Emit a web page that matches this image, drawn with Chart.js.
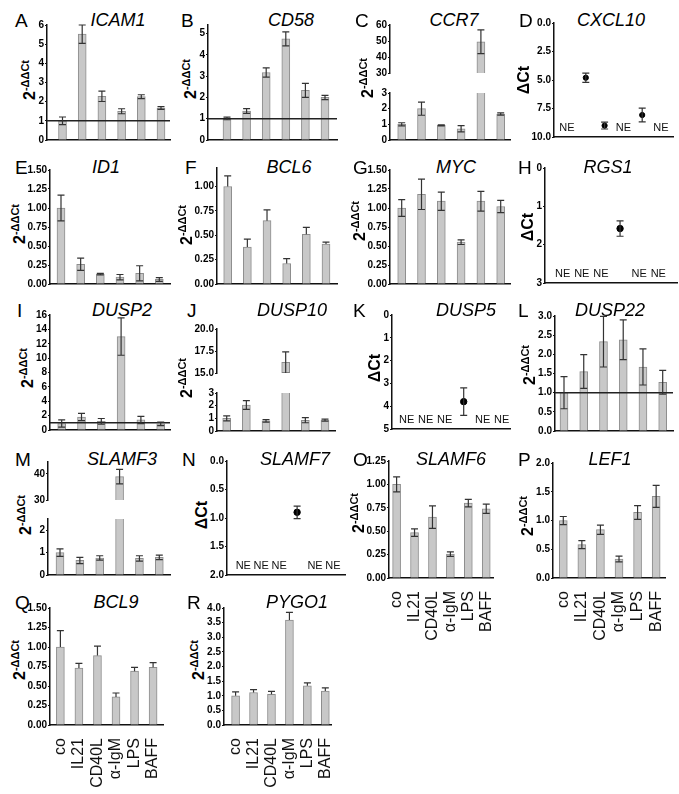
<!DOCTYPE html>
<html>
<head>
<meta charset="utf-8">
<script src="https://cdn.jsdelivr.net/npm/chart.js@4/dist/chart.umd.min.js"></script>
<style>
  html, body { margin: 0; padding: 0; background: #fff; }
  #fig { position: relative; width: 679px; height: 794px; overflow: hidden; background: #fff;
         font-family: "Liberation Sans", Arial, sans-serif; color: #000; }
  #fig canvas { position: absolute; }
  .txt { position: absolute; white-space: nowrap; }
</style>
</head>
<body>
<div id="fig"></div>
<script>
// treatment groups (x categories)
const GROUPS = ['co', 'IL21', 'CD40L', 'α-IgM', 'LPS', 'BAFF'];

// 2^-ΔΔCt bar data (mean, error)
const icam1 = [1.0, 5.52, 2.28, 1.5, 2.26, 1.67];
const icam1Err = [0.2, 0.48, 0.27, 0.13, 0.1, 0.07];
const cd58 = [1.01, 1.36, 3.17, 4.75, 2.33, 2.0];
const cd58Err = [0.06, 0.11, 0.22, 0.33, 0.33, 0.1];
const ccr7 = [1.0, 2.0, 0.93, 0.72, 49.5, 1.66];
const ccr7Err = [0.1, 0.42, 0.03, 0.2, 7.4, 0.07];
const id1 = [1.0, 0.26, 0.13, 0.09, 0.14, 0.06];
const id1Err = [0.17, 0.08, 0.01, 0.035, 0.1, 0.025];
const bcl6 = [1.0, 0.38, 0.65, 0.21, 0.51, 0.41];
const bcl6Err = [0.11, 0.08, 0.11, 0.05, 0.07, 0.02];
const myc = [1.0, 1.18, 1.09, 0.55, 1.09, 1.02];
const mycErr = [0.11, 0.2, 0.12, 0.03, 0.13, 0.08];
const dusp2 = [0.9, 1.8, 1.2, 13.0, 1.4, 0.85];
const dusp2Err = [0.5, 0.5, 0.4, 2.6, 0.5, 0.25];
const dusp10 = [1.0, 2.05, 0.8, 16.2, 0.85, 0.85];
const dusp10Err = [0.2, 0.35, 0.1, 1.2, 0.2, 0.08];
const dusp22 = [1.0, 1.55, 2.33, 2.38, 1.67, 1.27];
const dusp22Err = [0.42, 0.44, 0.66, 0.52, 0.47, 0.31];
const slamf3 = [1.0, 0.65, 0.76, 39.0, 0.74, 0.79];
const slamf3Err = [0.17, 0.14, 0.1, 2.8, 0.12, 0.1];
const slamf6 = [1.0, 0.485, 0.65, 0.255, 0.8, 0.74];
const slamf6Err = [0.08, 0.04, 0.12, 0.025, 0.04, 0.05];
const lef1 = [1.0, 0.58, 0.84, 0.33, 1.14, 1.42];
const lef1Err = [0.07, 0.07, 0.08, 0.05, 0.12, 0.19];
const bcl9 = [1.0, 0.73, 0.89, 0.36, 0.69, 0.74];
const bcl9Err = [0.21, 0.06, 0.12, 0.05, 0.05, 0.06];
const pygo1 = [1.0, 1.11, 1.05, 3.59, 1.34, 1.16];
const pygo1Err = [0.13, 0.1, 0.1, 0.26, 0.1, 0.11];

// ΔCt dot data; null = not expressed (NE)
const cxcl10 = [null, 4.8, 9.0, null, 8.07, null];
const cxcl10Err = [null, 0.4, 0.3, null, 0.6, null];
const rgs1 = [null, null, null, 1.58, null, null];
const rgs1Err = [null, null, null, 0.2, null, null];
const dusp5 = [null, null, null, 3.8, null, null];
const dusp5Err = [null, null, null, 0.6, null, null];
const slamf7 = [null, null, null, 0.9, null, null];
const slamf7Err = [null, null, null, 0.11, null, null];

// tick labels
const ticks0to6 = [0, 1, 2, 3, 4, 5, 6];
const ticks0to5 = [0, 1, 2, 3, 4, 5];
const ticks0to3 = [0, 1, 2, 3];
const ticks30to60 = [30, 40, 50, 60];
const ticksCxcl10 = [0, 2.5, 5, 7.5, 10];
const ticksQuarter150 = [0, 0.25, 0.5, 0.75, 1.0, 1.25, 1.5];
const ticksQuarter100 = [0, 0.25, 0.5, 0.75, 1.0];
const ticksQuarter125 = [0, 0.25, 0.5, 0.75, 1.0, 1.25];
const ticks0to16 = [0, 2, 4, 6, 8, 10, 12, 14, 16];
const ticks15to20 = [15, 17.5, 20];
const ticksHalf3 = [0, 0.5, 1.0, 1.5, 2.0, 2.5, 3.0];
const ticksHalf2 = [0, 0.5, 1.0, 1.5, 2.0];
const ticksHalf4 = [0, 0.5, 1.0, 1.5, 2.0, 2.5, 3.0, 3.5, 4.0];
const ticks30to40 = [30, 40];
const ticks0to2 = [0, 1, 2];

const panels = [
  {letter: 'A', gene: 'ICAM1', vals: icam1, errs: icam1Err, ref: 1, ax: 47, right: 170, c0: 62.5, c5: 161,
   segs: [{min: 0, max: 6, ticks: ticks0to6, dec: 0, top: 25, bottom: 143}],
   lx: 15, ly: 13, tx: 118, yl: [80, 'dd']},
  {letter: 'B', gene: 'CD58', vals: cd58, errs: cd58Err, ref: 1, ax: 208, right: 337, c0: 227, c5: 325,
   segs: [{min: 0, max: 5.4, ticks: ticks0to5, dec: 0, top: 25, bottom: 143}],
   lx: 181, ly: 13, tx: 291, yl: [79, 'dd']},
  {letter: 'C', gene: 'CCR7', vals: ccr7, errs: ccr7Err, ax: 390, right: 510, c0: 401.7, c5: 500.7,
   segs: [{min: 30, max: 60, ticks: ticks30to60, dec: 0, top: 25, bottom: 76, upper: true},
          {min: 0, max: 3, ticks: ticks0to3, dec: 0, top: 93, bottom: 143}],
   lx: 355, ly: 13, tx: 454, yl: [78, 'dd']},
  {letter: 'D', gene: 'CXCL10', dots: true, vals: cxcl10, errs: cxcl10Err, ax: 554, right: 673, c0: 567, c5: 661,
   segs: [{min: 0, max: 10, ticks: ticksCxcl10, dec: 1, top: 23, bottom: 140, reverse: true}],
   lx: 519, ly: 13, tx: 611, yl: [80, 'd']},

  {letter: 'E', gene: 'ID1', vals: id1, errs: id1Err, ax: 50, right: 170, c0: 61, c5: 159.3,
   segs: [{min: 0, max: 1.5, ticks: ticksQuarter150, dec: 2, top: 170, bottom: 287}],
   lx: 15, ly: 160, tx: 106, yl: [224, 'dd']},
  {letter: 'F', gene: 'BCL6', vals: bcl6, errs: bcl6Err, up: true, ax: 217, right: 337, c0: 227.7, c5: 326,
   segs: [{min: 0, max: 1.19, ticks: ticksQuarter100, dec: 2, top: 168, bottom: 287}],
   lx: 185, ly: 160, tx: 289, yl: [225, 'dd']},
  {letter: 'G', gene: 'MYC', vals: myc, errs: mycErr, ax: 390, right: 510, c0: 401.7, c5: 500.7,
   segs: [{min: 0, max: 1.5, ticks: ticksQuarter150, dec: 2, top: 170, bottom: 287}],
   lx: 353, ly: 160, tx: 456, yl: [221, 'dd']},
  {letter: 'H', gene: 'RGS1', dots: true, vals: rgs1, errs: rgs1Err, ax: 545, right: 677, c0: 562.7, c5: 658.3,
   segs: [{min: 0, max: 3, ticks: ticks0to3, dec: 0, top: 168, bottom: 286, reverse: true}],
   lx: 518, ly: 160, tx: 608, yl: [227, 'd']},

  {letter: 'I', gene: 'DUSP2', vals: dusp2, errs: dusp2Err, ref: 1, ax: 50, right: 170, c0: 61.7, c5: 160.7,
   segs: [{min: 0, max: 16, ticks: ticks0to16, dec: 0, top: 315, bottom: 433}],
   lx: 17, ly: 303, tx: 122, yl: [368, 'dd']},
  {letter: 'J', gene: 'DUSP10', vals: dusp10, errs: dusp10Err, ax: 217, right: 335, c0: 226.7, c5: 325,
   segs: [{min: 15, max: 20, ticks: ticks15to20, dec: 1, top: 329, bottom: 376, upper: true},
          {min: 0, max: 3, ticks: ticks0to3, dec: 0, top: 393, bottom: 434}],
   lx: 187, ly: 303, tx: 292, yl: [378, 'dd']},
  {letter: 'K', gene: 'DUSP5', dots: true, vals: dusp5, errs: dusp5Err, ax: 392, right: 510, c0: 406.7, c5: 501.7,
   segs: [{min: 0, max: 5, ticks: ticks0to5, dec: 0, top: 315, bottom: 432, reverse: true}],
   lx: 353, ly: 303, tx: 466, yl: [368, 'd']},
  {letter: 'L', gene: 'DUSP22', vals: dusp22, errs: dusp22Err, ref: 1, ax: 555, right: 673, c0: 564, c5: 662.7,
   segs: [{min: 0, max: 3, ticks: ticksHalf3, dec: 1, top: 316, bottom: 434}],
   lx: 518, ly: 303, tx: 610, yl: [365, 'dd']},

  {letter: 'M', gene: 'SLAMF3', vals: slamf3, errs: slamf3Err, ax: 48, right: 170, c0: 60, c5: 159.3,
   segs: [{min: 30, max: 44.6, ticks: ticks30to40, dec: 0, top: 462, bottom: 503, upper: true},
          {min: 0, max: 2.5, ticks: ticks0to2, dec: 0, top: 519, bottom: 578}],
   lx: 15, ly: 452, tx: 122, yl: [515, 'dd']},
  {letter: 'N', gene: 'SLAMF7', dots: true, vals: slamf7, errs: slamf7Err, ax: 227, right: 345, c0: 243.3, c5: 333,
   segs: [{min: 0, max: 2, ticks: ticksHalf2, dec: 1, top: 461, bottom: 578, reverse: true}],
   lx: 182, ly: 452, tx: 295, yl: [515, 'd']},
  {letter: 'O', gene: 'SLAMF6', vals: slamf6, errs: slamf6Err, xlab: true, ax: 389, right: 503, c0: 397.3, c5: 495,
   segs: [{min: 0, max: 1.25, ticks: ticksQuarter125, dec: 2, top: 461, bottom: 578}],
   lx: 353, ly: 452, tx: 451, yl: [513, 'dd']},
  {letter: 'P', gene: 'LEF1', vals: lef1, errs: lef1Err, xlab: true, ax: 553, right: 673, c0: 564, c5: 663.3,
   segs: [{min: 0, max: 2, ticks: ticksHalf2, dec: 1, top: 463, bottom: 578}],
   lx: 518, ly: 452, tx: 610, yl: [516, 'dd']},

  {letter: 'Q', gene: 'BCL9', vals: bcl9, errs: bcl9Err, up: true, xlab: true, ax: 50, right: 170, c0: 61, c5: 159.3,
   segs: [{min: 0, max: 1.5, ticks: ticksQuarter150, dec: 2, top: 608, bottom: 725}],
   lx: 15, ly: 595, tx: 116, yl: [660, 'dd']},
  {letter: 'R', gene: 'PYGO1', vals: pygo1, errs: pygo1Err, up: true, xlab: true, ax: 224, right: 342, c0: 236.7, c5: 335,
   segs: [{min: 0, max: 4, ticks: ticksHalf4, dec: 1, top: 608, bottom: 725}],
   lx: 187, ly: 595, tx: 297, yl: [660, 'dd']}
];

const FONT = '"Liberation Sans", Arial, sans-serif';
const TICK_FONT = {size: 10, weight: 'bold'};
Chart.defaults.font.family = FONT;
Chart.defaults.animation = false;

const LPAD = 44, TPAD = 10, RPAD = 8;
const AXIS = '#111';

// error bars, reference line and NE labels, placed through the chart scales
const decor = {
  id: 'decor',
  afterDatasetsDraw(chart, args, o) {
    const {ctx, chartArea: a, scales: {x, y}} = chart;
    const m = o.broken ? 0 : 10;
    ctx.save();
    ctx.beginPath();
    ctx.rect(a.left, a.top - m, a.right - a.left + 2, a.bottom - a.top + 2 * m);
    ctx.clip();
    if (o.ref != null && !o.upper) {
      const py = y.getPixelForValue(o.ref);
      ctx.strokeStyle = '#222';
      ctx.lineWidth = 1.5;
      ctx.beginPath();
      ctx.moveTo(a.left, py);
      ctx.lineTo(a.right, py);
      ctx.stroke();
    }
    ctx.strokeStyle = '#333';
    ctx.lineWidth = 1.2;
    o.vals.forEach((v, i) => {
      const e = o.errs[i];
      if (v == null || e == null) return;
      const px = x.getPixelForValue(i);
      const t = y.getPixelForValue(v + e);
      const b = y.getPixelForValue(o.up ? v : v - e);
      ctx.beginPath();
      ctx.moveTo(px, t); ctx.lineTo(px, b);
      ctx.moveTo(px - 3.5, t); ctx.lineTo(px + 3.5, t);
      if (!o.up) { ctx.moveTo(px - 3.5, b); ctx.lineTo(px + 3.5, b); }
      ctx.stroke();
    });
    ctx.restore();
    if (o.dots) {
      ctx.save();
      ctx.fillStyle = '#111';
      ctx.font = '11px ' + FONT;
      ctx.textAlign = 'center';
      ctx.textBaseline = 'middle';
      o.vals.forEach((v, i) => {
        if (v == null) ctx.fillText('NE', x.getPixelForValue(i), a.bottom - 9);
      });
      ctx.restore();
    }
  }
};

const fig = document.getElementById('fig');
const measure = document.createElement('canvas').getContext('2d');
measure.font = 'bold ' + TICK_FONT.size + 'px ' + FONT;

function addText(html, x, capTop, size, extra) {
  const d = document.createElement('div');
  d.className = 'txt';
  d.innerHTML = html;
  d.style.left = x + 'px';
  d.style.top = (capTop - 0.13 * size) + 'px';
  d.style.fontSize = size + 'px';
  d.style.lineHeight = size + 'px';
  if (extra) Object.assign(d.style, extra);
  fig.appendChild(d);
}

function addYLabel(cx, cy, kind) {
  const d = document.createElement('div');
  d.className = 'txt';
  d.style.left = cx + 'px';
  d.style.top = cy + 'px';
  d.style.fontSize = '16px';
  d.style.lineHeight = '16px';
  d.style.fontWeight = 'bold';
  d.style.transform = 'translate(-50%,-50%) rotate(-90deg)';
  d.innerHTML = kind === 'dd'
    ? '2<span style="font-size:11px;position:relative;top:-6px">-ΔΔCt</span>'
    : 'ΔCt';
  fig.appendChild(d);
}

panels.forEach(p => {
  addText(p.letter, p.lx, p.ly, 19);
  addText(p.gene, p.tx, p.ly, 18, {fontStyle: 'italic', transform: 'translateX(-50%)'});

  // y title sits just left of the widest tick label
  let tw = 0;
  p.segs.forEach(s => s.ticks.forEach(v => {
    tw = Math.max(tw, measure.measureText(v.toFixed(s.dec)).width);
  }));
  addYLabel(p.ax - tw - 11, p.yl[0], p.yl[1]);

  const sp = (p.c5 - p.c0) / 5;
  const xmin = -(p.c0 - p.ax) / sp;
  const xmax = 5 + (p.right - p.c5) / sp;

  p.segs.forEach((s, si) => {
    const lastSeg = si === p.segs.length - 1;
    const bpad = p.xlab && lastSeg ? 72 : 4;
    const cv = document.createElement('canvas');
    const w = (p.right - p.ax) + LPAD + RPAD;
    const h = (s.bottom - s.top) + TPAD + bpad;
    cv.width = w; cv.height = h;
    cv.style.width = w + 'px'; cv.style.height = h + 'px';
    cv.style.left = (p.ax - LPAD) + 'px';
    cv.style.top = (s.top - TPAD) + 'px';
    fig.appendChild(cv);

    const dataset = p.dots
      ? {type: 'scatter',
         data: p.vals.map((v, i) => v == null ? null : {x: i, y: v}).filter(Boolean),
         pointRadius: p.letter === 'D' ? 2.6 : 3.2, pointBackgroundColor: '#000', pointBorderColor: '#000',
         showLine: false}
      : {type: 'bar',
         data: p.vals.map((v, i) => ({x: i, y: v})),
         backgroundColor: '#c8c8c8', borderColor: '#8d8d8d', borderWidth: 1,
         barThickness: 8, clip: 0};

    new Chart(cv, {
      type: p.dots ? 'scatter' : 'bar',
      data: {datasets: [dataset]},
      options: {
        responsive: false,
        devicePixelRatio: 1,
        layout: {padding: {top: TPAD, right: RPAD, left: 0, bottom: 0}},
        plugins: {
          legend: {display: false},
          tooltip: {enabled: false},
          decor: {vals: p.vals, errs: p.errs, up: !!p.up, ref: p.ref, dots: !!p.dots,
                  broken: p.segs.length > 1, upper: !!s.upper}
        },
        scales: {
          x: {
            type: 'linear', min: xmin, max: xmax, offset: false,
            afterBuildTicks: sc => { sc.ticks = GROUPS.map((g, i) => ({value: i})); },
            afterFit: sc => { sc.height = bpad; },
            ticks: {display: !!(p.xlab && lastSeg), autoSkip: false, minRotation: 90, maxRotation: 90,
                    padding: 5, font: {size: 16}, color: '#111', callback: v => GROUPS[v]},
            grid: {display: false, offset: false},
            border: {display: !s.upper, color: AXIS, width: 1.5}
          },
          y: {
            type: 'linear', min: s.min, max: s.max, reverse: !!s.reverse,
            afterBuildTicks: sc => { sc.ticks = s.ticks.map(v => ({value: v})); },
            afterFit: sc => { sc.width = LPAD; },
            ticks: {autoSkip: false, font: TICK_FONT, color: '#000', padding: 1,
                    callback: v => Number(v).toFixed(s.dec)},
            grid: {display: true, drawOnChartArea: false, drawTicks: true, tickLength: 2,
                   color: AXIS, lineWidth: 1},
            border: {display: true, color: AXIS, width: 1.5}
          }
        }
      },
      plugins: [decor]
    });
  });
});
</script>
</body>
</html>
